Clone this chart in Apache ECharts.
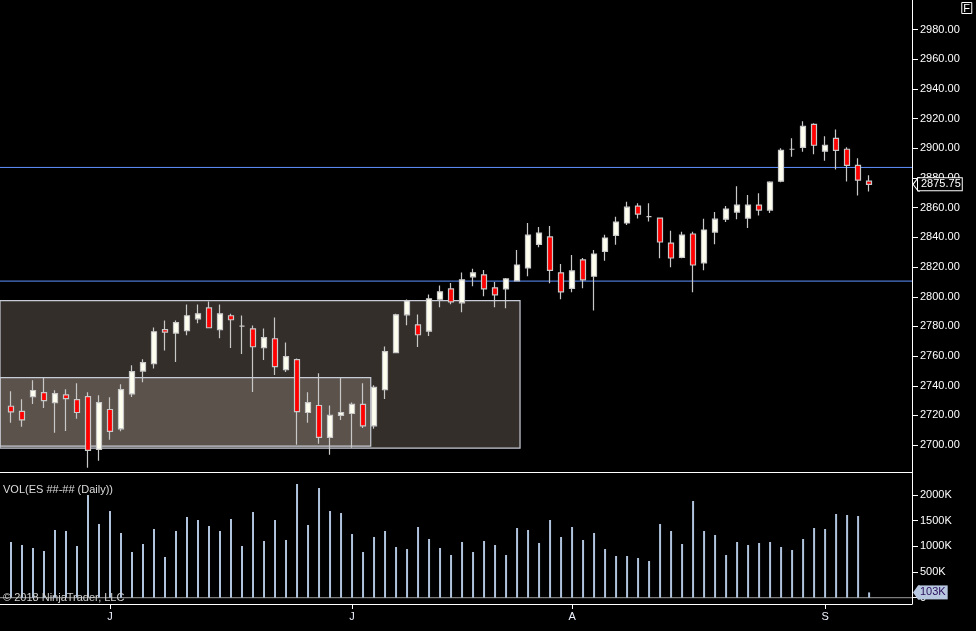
<!DOCTYPE html>
<html>
<head>
<meta charset="utf-8">
<script src="https://cdn.jsdelivr.net/npm/echarts@6/dist/echarts.min.js"></script>
<style>
  html, body { margin: 0; padding: 0; background: #000; }
  #chart { width: 976px; height: 631px; }
</style>
</head>
<body>
<div id="chart"></div>
<script>
// ---- data ----
const opens  = [2726.2,2722.8,2732.7,2735.4,2728.7,2733.8,2730.7,2732.7,2697.1,2724.0,
                2711.0,2734.5,2749.9,2754.9,2777.8,2775.5,2777.1,2785.1,2792.5,2777.8,
                2787.2,2780.2,2778.4,2765.7,2771.7,2750.9,2757.6,2722.0,2726.7,2705.2,
                2720.0,2721.3,2727.4,2713.0,2737.4,2762.3,2787.8,2781.1,2776.8,2798.3,
                2805.3,2795.9,2813.4,2814.7,2806.0,2805.3,2810.7,2819.4,2835.3,2840.3,
                2816.1,2805.7,2824.8,2813.8,2830.6,2841.3,2849.7,2861.1,2854.0,2853.0,
                2836.2,2826.5,2842.3,2822.8,2843.6,2852.3,2857.1,2853.0,2861.8,2858.4,
                2877.9,2899.4,2900.7,2916.2,2898.1,2906.8,2899.4,2888.6,2877.9];
const closes = [2722.4,2717.0,2736.8,2730.0,2734.7,2731.4,2722.0,2696.4,2728.7,2709.2,
                2737.4,2749.5,2755.6,2776.4,2776.1,2782.5,2787.2,2788.5,2779.1,2788.5,
                2784.5,2780.2,2766.3,2772.4,2752.9,2759.6,2722.6,2728.7,2705.2,2720.0,
                2722.0,2727.4,2713.0,2739.0,2763.0,2787.8,2797.2,2774.4,2798.6,2803.3,
                2796.6,2811.4,2816.1,2805.3,2801.3,2812.0,2821.4,2841.6,2842.9,2817.8,
                2803.3,2817.4,2811.4,2828.8,2839.6,2850.3,2860.4,2855.7,2854.0,2836.9,
                2826.1,2841.6,2821.4,2845.0,2852.3,2859.1,2861.8,2861.8,2858.4,2877.2,
                2898.7,2899.4,2914.9,2902.1,2902.1,2898.7,2888.6,2878.6,2875.75];
const lows   = [2715.0,2712.3,2727.8,2725.1,2708.3,2709.6,2717.7,2684.7,2689.4,2703.6,
                2709.4,2732.5,2742.3,2751.7,2763.8,2756.0,2774.1,2782.2,2779.0,2772.1,
                2765.4,2761.4,2735.8,2757.3,2747.2,2749.3,2700.2,2715.0,2700.9,2693.5,
                2717.0,2698.2,2711.6,2711.0,2731.1,2762.0,2780.8,2766.1,2773.5,2792.9,
                2795.0,2789.6,2807.1,2800.3,2792.9,2792.3,2810.5,2813.8,2833.3,2809.1,
                2798.3,2803.0,2805.7,2790.7,2824.3,2835.1,2848.3,2852.8,2850.7,2825.9,
                2819.8,2825.9,2803.0,2817.8,2835.3,2850.3,2852.3,2846.3,2854.8,2856.4,
                2877.2,2894.4,2897.8,2896.0,2891.7,2885.7,2877.6,2868.2,2870.9];
const highs  = [2736.3,2730.9,2743.7,2745.2,2737.0,2737.6,2741.7,2735.6,2733.6,2732.3,
                2741.0,2753.8,2757.8,2779.3,2784.0,2784.0,2794.8,2794.8,2796.8,2794.8,
                2788.5,2787.4,2780.6,2778.6,2786.0,2769.2,2758.3,2735.6,2748.4,2726.7,
                2745.5,2728.7,2741.7,2740.3,2766.5,2788.5,2798.1,2788.0,2801.5,2807.5,
                2809.3,2816.3,2818.8,2818.1,2810.0,2812.7,2831.5,2849.7,2847.0,2847.6,
                2822.1,2828.2,2826.1,2831.5,2841.8,2853.9,2864.0,2863.1,2863.1,2853.3,
                2844.5,2843.8,2843.8,2852.6,2857.1,2861.1,2874.5,2868.5,2869.8,2877.9,
                2900.1,2906.8,2918.2,2916.9,2908.1,2912.8,2900.7,2893.3,2881.9];
const volumesK = [1085,1026,968,909,1318,1299,1007,2000,1435,1688,
                  1260,890,1046,1338,793,1299,1572,1513,1396,1299,
                  1533,1007,1669,1104,1513,1124,2214,1416,2136,1688,
                  1649,1240,890,1182,1299,987,948,1377,1143,968,
                  832,1085,890,1104,1026,832,1357,1318,1065,1513,
                  1182,1377,1124,1260,948,812,812,773,715,1435,
                  1299,1046,1883,1299,1221,832,1085,1026,1065,1085,
                  987,929,1143,1357,1338,1630,1611,1591,103];
const monthStartIdx = [9, 31, 51, 74];
const monthLabels   = ['J', 'J', 'A', 'S'];
const priceTicks = { min: 2680, max: 3000, step: 20 };
const volTickValues = [0, 500000, 1000000, 1500000, 2000000];
const volRange = { min: -122700, max: 2447900 };
const levelLines = [2887.15, 2810.55];
// drawn rectangles: [xFrom, xTo, priceLow, priceHigh] in bar-index / price units
const zoneOuter = [-1, 46.27, 2698.0, 2797.4];
const zoneInner = [-1, 32.7, 2699.3, 2745.5];

// ---- build ----
const FONT = '"Liberation Sans", Arial, sans-serif';
const X_MIN = -1, X_MAX = 81.9;
const idx = opens.map((_, i) => i);
const candleData = idx.map(i => [i, opens[i], closes[i], lows[i], highs[i]]);
const volData = idx.map(i => [i, volumesK[i] * 1000]);
const lastClose = closes[closes.length - 1];
const lastVol = volumesK[volumesK.length - 1] * 1000;
const zoneToArea = z => [{ xAxis: z[0], yAxis: z[2] }, { xAxis: z[1], yAxis: z[3] }];
const HIDDEN_LINE = { color: 'rgba(0,0,0,0)', width: 0 };
const ARROW_PATH = 'path://M7,0 L5,0 L0,6 L5,12 L7,12';

function hLine(v, xIdx, yIdx, color, z) {
  return { type: 'line', xAxisIndex: xIdx, yAxisIndex: yIdx, z: z, silent: true,
    symbol: 'none', data: [[X_MIN, v], [X_MAX, v]],
    lineStyle: { color: color, width: 1 }, itemStyle: { color: color } };
}

const chart = echarts.init(document.getElementById('chart'), null, { renderer: 'canvas' });
chart.setOption({
  backgroundColor: '#000',
  animation: false,
  textStyle: { fontFamily: FONT },
  title: [
    { text: 'F', right: 4, top: 2, padding: [1, 2, 0, 2], borderColor: '#ffffff', borderWidth: 1,
      textStyle: { color: '#ffffff', fontSize: 11, fontWeight: 'normal', fontFamily: FONT } },
    { text: 'VOL(ES ##-## (Daily))', left: 3, top: 484, padding: 0,
      textStyle: { color: '#dcdcdc', fontSize: 11, fontWeight: 'normal', fontFamily: FONT } },
    { text: '© 2018 NinjaTrader, LLC', left: 3, top: 592, padding: 0,
      textStyle: { color: '#d0d0d0', fontSize: 11, fontWeight: 'normal', fontFamily: FONT } }
  ],
  grid: [
    { left: 0, right: 64, top: -1.46, height: 476.26 },
    { left: 0, right: 64, top: 472, height: 132 }
  ],
  xAxis: [
    { type: 'value', gridIndex: 0, min: X_MIN, max: X_MAX, show: false },
    { type: 'value', gridIndex: 1, min: X_MIN, max: X_MAX, position: 'bottom',
      axisLine: { show: true, onZero: false, lineStyle: { color: '#ffffff', width: 1 } },
      axisTick: { show: true, customValues: monthStartIdx, length: 5, lineStyle: { color: '#ffffff' } },
      axisLabel: { show: true, customValues: monthStartIdx, margin: 7, color: '#eef2ff', fontSize: 11, fontFamily: FONT,
        formatter: v => { const k = monthStartIdx.indexOf(Math.round(v)); return k >= 0 ? monthLabels[k] : ''; } },
      splitLine: { show: false } },
    { type: 'value', gridIndex: 1, min: X_MIN, max: X_MAX, position: 'top',
      axisLine: { show: true, onZero: false, lineStyle: { color: '#ffffff', width: 1 } },
      axisTick: { show: false }, axisLabel: { show: false }, splitLine: { show: false } }
  ],
  yAxis: [
    { type: 'value', gridIndex: 0, position: 'right', min: priceTicks.min, max: priceTicks.max, interval: priceTicks.step,
      axisLine: { show: true, onZero: false, lineStyle: { color: '#ffffff', width: 1 } },
      axisTick: { show: true, length: 6, lineStyle: { color: '#ffffff' } },
      axisLabel: { color: '#ffffff', fontSize: 11, fontFamily: FONT, margin: 8, showMinLabel: false, showMaxLabel: false,
        formatter: v => v.toFixed(2) },
      splitLine: { show: false } },
    { type: 'value', gridIndex: 1, position: 'right', min: volRange.min, max: volRange.max,
      axisLine: { show: true, onZero: false, lineStyle: { color: '#ffffff', width: 1 } },
      axisTick: { show: true, length: 6, customValues: volTickValues, lineStyle: { color: '#ffffff' } },
      axisLabel: { color: '#ffffff', fontSize: 11, fontFamily: FONT, margin: 8, customValues: volTickValues,
        formatter: v => v === 0 ? '0' : Math.round(v / 1000) + 'K' },
      splitLine: { show: false } }
  ],
  series: [
    hLine(levelLines[0], 0, 0, '#5f92ff', 1),
    hLine(levelLines[1], 0, 0, '#5f92ff', 1),
    {
      type: 'candlestick', xAxisIndex: 0, yAxisIndex: 0, z: 3,
      data: candleData,
      barWidth: 6,
      itemStyle: { color: '#fffff0', color0: '#ff0000', borderColor: '#c8c8c8', borderColor0: '#c8c8c8', borderWidth: 1.2 },
      markArea: {
        silent: true,
        itemStyle: { color: 'rgba(255,230,210,0.2)', borderColor: '#c8ccd6', borderWidth: 1.2 },
        data: [zoneToArea(zoneOuter), zoneToArea(zoneInner)]
      }
    },
    {
      // carrier for the last-price tag
      type: 'line', xAxisIndex: 0, yAxisIndex: 0, data: [], z: 10, silent: true,
      markLine: {
        silent: true, symbol: 'none', animation: false,
        lineStyle: HIDDEN_LINE,
        label: { show: true, position: 'end', distance: 6, formatter: lastClose.toFixed(2),
          color: '#ffffff', backgroundColor: '#000000', borderColor: '#ffffff', borderWidth: 1,
          padding: [1, 1, 0, 3], lineHeight: 11, fontSize: 11, fontFamily: FONT },
        data: [{ yAxis: lastClose }]
      },
      markPoint: {
        silent: true, animation: false, symbol: ARROW_PATH, symbolSize: [7, 13], symbolOffset: [4.5, 0],
        itemStyle: { color: '#000000', borderColor: '#ffffff', borderWidth: 1 },
        label: { show: false },
        data: [{ coord: [X_MAX, lastClose] }]
      }
    },
    hLine(0, 1, 1, '#9a9a9a', 1),
    {
      type: 'bar', xAxisIndex: 1, yAxisIndex: 1, z: 2,
      data: volData,
      barWidth: 2,
      itemStyle: { color: '#b0c4de' }
    },
    {
      type: 'line', xAxisIndex: 1, yAxisIndex: 1, data: [], z: 10, silent: true,
      markLine: {
        silent: true, symbol: 'none', animation: false,
        lineStyle: HIDDEN_LINE,
        label: { show: true, position: 'end', distance: 6, formatter: Math.round(lastVol / 1000) + 'K',
          color: '#2b0f5c', backgroundColor: '#b8c8e0', padding: [2, 2, 1, 2], lineHeight: 11, fontSize: 11, fontFamily: FONT },
        data: [{ yAxis: lastVol }]
      },
      markPoint: {
        silent: true, animation: false, symbol: ARROW_PATH, symbolSize: [7, 14], symbolOffset: [4.5, 0],
        itemStyle: { color: '#b8c8e0', borderWidth: 0 },
        label: { show: false },
        data: [{ coord: [X_MAX, lastVol] }]
      }
    }
  ]
});
</script>
</body>
</html>
